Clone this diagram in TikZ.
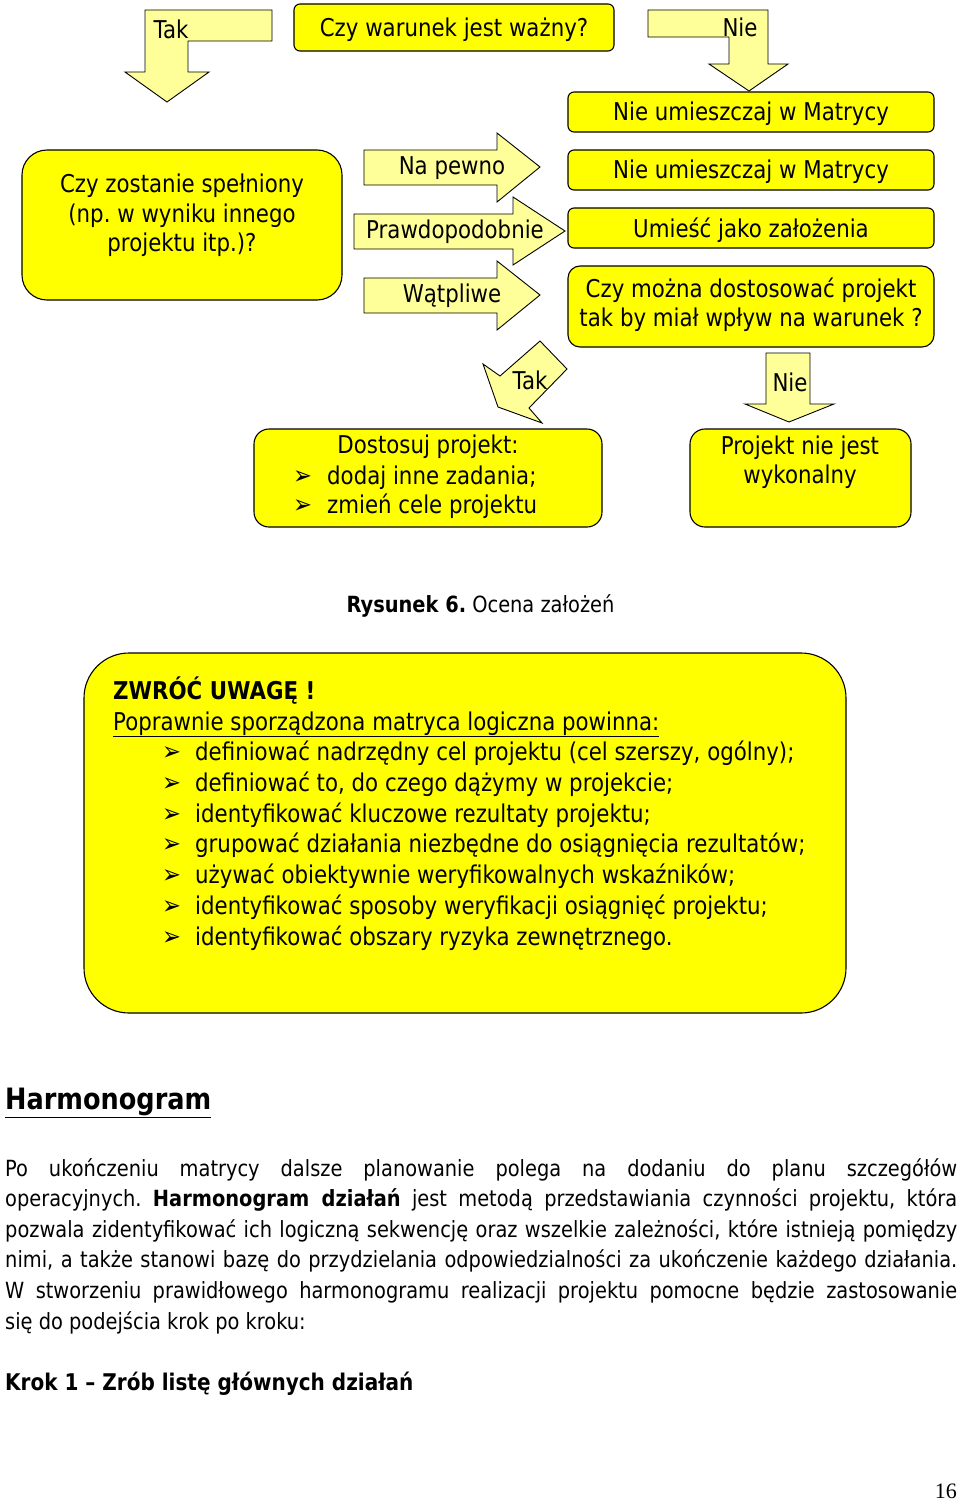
\documentclass[tikz,border=0pt]{standalone}
\usepackage{fontspec}
\setmainfont{DejaVu Sans}[FakeStretch=0.87]
\newfontfamily\numfont{Liberation Serif}
\usepackage{xcolor}
\usepackage{tikz}
\usetikzlibrary{positioning}
\definecolor{boxy}{RGB}{255,255,0}
\definecolor{arry}{RGB}{255,255,153}
\newcommand\dfont{\fontsize{24.5}{29.5}\selectfont}
\newcommand\bfont{\fontsize{22.3}{30.6}\selectfont}
\newcommand\strz{{\fontsize{26}{26}\selectfont ➢}}
\frenchspacing

\begin{document}
\begin{tikzpicture}[x=1pt,y=-1pt,font=\dfont,
  ybox/.style={draw,line width=1.1pt,fill=boxy,rounded corners=6pt,align=center,inner sep=0pt,text depth=0.1em},
  barr/.style={draw,line width=0.9pt,fill=arry,line join=miter},
  dtxt/.style={align=center,inner sep=0pt},
  btxt/.style={font=\bfont,anchor=base west,inner sep=0pt}]
  \useasboundingbox (0,0) rectangle (960,1501);
  % gorny wiersz
  \node[ybox,minimum width=320,minimum height=47] (war) at (454,27.5) {Czy warunek jest ważny?};
  \draw[barr] (145,10) -- (272,10) -- (272,41) -- (188,41) -- (188,72) -- (209,72) -- (167,102) -- (125,72) -- (145,72) -- cycle;
  \node[dtxt] (tak1) at (171,29) {Tak};
  \draw[barr] (648,10) -- (768,10) -- (768,64) -- (788,64) -- (749,91) -- (709,64) -- (729,64) -- (729,37) -- (648,37) -- cycle;
  \node[dtxt] (nie1) at (740,27) {Nie};
  % prawa kolumna
  \node[ybox,minimum width=366,minimum height=40] (mat1) at (751,112) {Nie umieszczaj w Matrycy};
  \node[ybox,minimum width=366,minimum height=40] (mat2) at (751,170) {Nie umieszczaj w Matrycy};
  \node[ybox,minimum width=366,minimum height=40] (zal) at (751,228) {Umieść jako założenia};
  \node[ybox,minimum width=366,minimum height=81,rounded corners=12pt] (dost) at (751,306.5) {};
  \node[dtxt] (dostt) at (751,304.5) {Czy można dostosować projekt\\tak by miał wpływ na warunek ?};
  % lewy blok i strzalki
  \node[ybox,minimum width=320,minimum height=150,rounded corners=25pt] (spel) at (182,225) {};
  \node[dtxt] (spelt) at (182,215.5) {Czy zostanie spełniony\\(np. w wyniku innego\\projektu itp.)?};
  \draw[barr] (364,150) -- (497,150) -- (497,133) -- (540,167) -- (497,202) -- (497,185) -- (364,185) -- cycle;
  \node[dtxt] (pewno) at (452,168) {Na pewno};
  \draw[barr] (354,214) -- (513,214) -- (513,197) -- (565,231) -- (513,265) -- (513,249) -- (354,249) -- cycle;
  \node[dtxt] (prawd) at (455,232) {Prawdopodobnie};
  \draw[barr] (364,278) -- (497,278) -- (497,261) -- (540,295) -- (497,330) -- (497,313) -- (364,313) -- cycle;
  \node[dtxt] (watp) at (452,296) {Wątpliwe};
  % dolny wiersz
  \draw[barr] (540,341) -- (567,369) -- (529,408) -- (542,423) -- (498,407) -- (483,364) -- (500,376) -- cycle;
  \node[dtxt] (tak2) at (530,380) {Tak};
  \draw[barr] (766,353) -- (810,353) -- (810,404) -- (834,404) -- (789,422) -- (745,404) -- (766,404) -- cycle;
  \node[dtxt] (nie2) at (790,382) {Nie};
  \node[ybox,minimum width=348,minimum height=98,rounded corners=15pt] (dsj) at (428,478) {};
  \node[dtxt] (dsjt) at (428,447) {Dostosuj projekt:};
  \node[dtxt,anchor=base west] (dsj1) at (293,484) {\makebox[34pt][l]{\strz}dodaj inne zadania;};
  \node[dtxt,anchor=base west] (dsj2) at (293,513) {\makebox[34pt][l]{\strz}zmień cele projektu};
  \node[ybox,minimum width=221,minimum height=98,rounded corners=15pt] (wyk) at (800.5,478) {};
  \node[dtxt] (wykt) at (800,462) {Projekt nie jest\\wykonalny};
  \node[dtxt,anchor=base,font=\fontsize{22.3}{25}\selectfont] (rys) at (480.5,612) {\textbf{Rysunek 6.} Ocena założeń};
  % ramka uwagi
  \node[ybox,minimum width=762,minimum height=360,rounded corners=45pt] (uwaga) at (465,833) {};
  \node[dtxt,anchor=base west] (uwt) at (113,699) {\textbf{ZWRÓĆ UWAGĘ !}};
  \node[dtxt,anchor=base west] (popr) at (113,730) {\underline{Poprawnie sporządzona matryca logiczna powinna:}};
  \foreach \t [count=\i] in {{definiować nadrzędny cel projektu (cel szerszy, ogólny);},
    {definiować to, do czego dążymy w projekcie;},
    {identyfikować kluczowe rezultaty projektu;},
    {grupować działania niezbędne do osiągnięcia rezultatów;},
    {używać obiektywnie weryfikowalnych wskaźników;},
    {identyfikować sposoby weryfikacji osiągnięć projektu;},
    {identyfikować obszary ryzyka zewnętrznego.}}
    \node[dtxt,anchor=base west] (pkt\i) at (162,730.3+30.67*\i) {\makebox[33pt][l]{\strz}\t};
  % tekst strony
  \node[anchor=base west,inner sep=0pt,font=\fontsize{29.4}{32}\selectfont\bfseries] (harm) at (5,1109) {\underline{Harmonogram}};
  \foreach \t [count=\i] in {{Po ukończeniu matrycy dalsze planowanie polega na dodaniu do planu szczegółów},
    {operacyjnych. \textbf{Harmonogram działań} jest metodą przedstawiania czynności projektu, która},
    {pozwala zidentyfikować ich logiczną sekwencję oraz wszelkie zależności, które istnieją pomiędzy},
    {nimi, a także stanowi bazę do przydzielania odpowiedzialności za ukończenie każdego działania.},
    {W stworzeniu prawidłowego harmonogramu realizacji projektu pomocne będzie zastosowanie}}
    \node[btxt] (lin\i) at (5,1145.4+30.6*\i) {\makebox[952pt][s]{\t}};
  \node[btxt] (lin6) at (5,1329) {się do podejścia krok po kroku:};
  \node[btxt,font=\fontsize{23}{30}\selectfont] (krok) at (5,1390) {\textbf{Krok 1 – Zrób listę głównych działań}};
  \node[anchor=base east,inner sep=0pt,font=\numfont\fontsize{22}{24}\selectfont] (str) at (957,1498) {16};
\end{tikzpicture}
\end{document}
